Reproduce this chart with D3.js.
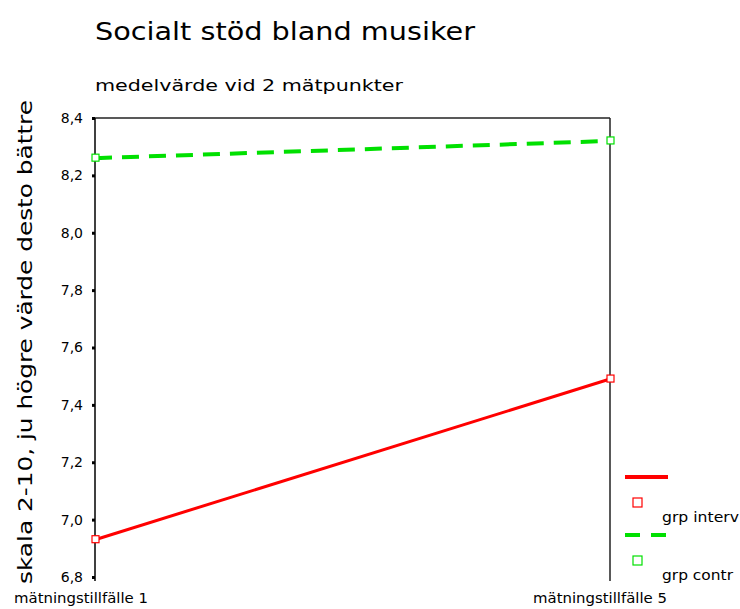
<!DOCTYPE html>
<html>
<head>
<meta charset="utf-8">
<script src="https://cdn.jsdelivr.net/npm/d3@7"></script>
<style>
  body { margin: 0; background: #fff; }
  text { font-family: "DejaVu Sans", "Liberation Sans", sans-serif; fill: #000; }
</style>
</head>
<body>
<div id="chart"></div>
<script>
// data
let timepoints = ["mätningstillfälle 1", "mätningstillfälle 5"];
let interv = [6.93, 7.49];
let contr = [8.26, 8.32];
let yTicks = [6.8, 7.0, 7.2, 7.4, 7.6, 7.8, 8.0, 8.2, 8.4];
let seriesNames = ["grp interv", "grp contr"];

let width = 740, height = 609;
let margin = {top: 118, left: 95, right: 130, bottom: 32};

let svg = d3.select("#chart").append("svg")
    .attr("width", width)
    .attr("height", height);

let x = d3.scalePoint()
    .domain(timepoints)
    .range([margin.left, width - margin.right]);

let y = d3.scaleLinear()
    .domain([6.8, 8.4])
    .range([height - margin.bottom, margin.top]);

// titles
svg.append("text")
    .attr("x", 95).attr("y", 40)
    .style("font-size", "24px")
    .attr("textLength", 380).attr("lengthAdjust", "spacingAndGlyphs")
    .text("Socialt stöd bland musiker");

svg.append("text")
    .attr("x", 95).attr("y", 91)
    .style("font-size", "16px")
    .attr("textLength", 308).attr("lengthAdjust", "spacingAndGlyphs")
    .text("medelvärde vid 2 mätpunkter");

// y axis label
svg.append("text")
    .attr("transform", "translate(32,342) rotate(-90)")
    .attr("text-anchor", "middle")
    .style("font-size", "20px")
    .attr("textLength", 484).attr("lengthAdjust", "spacingAndGlyphs")
    .text("skala 2-10, ju högre värde desto bättre");

// frame: top and right lines
svg.append("line")
    .attr("x1", x(timepoints[0])).attr("x2", x(timepoints[1]))
    .attr("y1", y(8.4)).attr("y2", y(8.4))
    .attr("stroke", "#222").attr("stroke-width", 1.5);
svg.append("line")
    .attr("x1", x(timepoints[1])).attr("x2", x(timepoints[1]))
    .attr("y1", y(8.4)).attr("y2", y(6.8) + 4)
    .attr("stroke", "#222").attr("stroke-width", 1.5);

// y axis
let yAxis = svg.append("g")
    .attr("transform", "translate(" + x(timepoints[0]) + ",0)")
    .call(d3.axisLeft(y).tickValues(yTicks).tickSize(3).tickPadding(9)
        .tickFormat(d => d3.format(".1f")(d).replace(".", ",")));
yAxis.select(".domain").attr("stroke", "#000").attr("stroke-width", 1.5)
    .attr("d", "M0," + y(8.4) + "V" + (y(6.8) + 4));
yAxis.selectAll(".tick line").attr("stroke", "#000").attr("stroke-width", 3);
yAxis.selectAll(".tick text").style("font-size", "14px")
    .attr("font-family", "DejaVu Sans, sans-serif");

// x labels
svg.selectAll(".xlab")
    .data(timepoints)
    .enter().append("text")
    .attr("class", "xlab")
    .attr("x", (d, i) => x(d) - (i === 0 ? 14 : 10))
    .attr("y", 603)
    .attr("text-anchor", "middle")
    .style("font-size", "14px")
    .attr("textLength", 134).attr("lengthAdjust", "spacingAndGlyphs")
    .text(d => d);

// lines
let line = d3.line()
    .x((d, i) => x(timepoints[i]))
    .y(d => y(d));

let series = [
    {name: seriesNames[0], values: interv, color: "#ff0000", dash: null, w: 3, tl: 77},
    {name: seriesNames[1], values: contr, color: "#00e000", dash: "17,10", w: 4, tl: 71}
];

series.forEach(s => {
    svg.append("path")
        .datum(s.values)
        .attr("d", line)
        .attr("fill", "none")
        .attr("stroke", s.color)
        .attr("stroke-width", s.w)
        .attr("stroke-dasharray", s.dash);
    svg.selectAll(null)
        .data(s.values)
        .enter().append("rect")
        .attr("x", (d, i) => x(timepoints[i]) - 3)
        .attr("y", d => y(d) - 4)
        .attr("width", 7).attr("height", 7)
        .attr("fill", "#fff")
        .attr("stroke", s.color)
        .attr("stroke-width", 1.2);
});

// legend
let legend = svg.append("g").attr("transform", "translate(625,477)");
series.forEach((s, i) => {
    let g = legend.append("g").attr("transform", "translate(0," + (i * 58) + ")");
    g.append("line")
        .attr("x1", 0).attr("x2", 43)
        .attr("y1", 0).attr("y2", 0)
        .attr("stroke", s.color).attr("stroke-width", 4)
        .attr("stroke-dasharray", s.dash ? "15,11" : null);
    g.append("rect")
        .attr("x", 8).attr("y", 21)
        .attr("width", 9).attr("height", 9)
        .attr("fill", "#fff")
        .attr("stroke", s.color).attr("stroke-width", 1.2);
    g.append("text")
        .attr("x", 37).attr("y", 45)
        .style("font-size", "14px")
        .attr("textLength", s.tl).attr("lengthAdjust", "spacingAndGlyphs")
        .text(s.name);
});
</script>
</body>
</html>
